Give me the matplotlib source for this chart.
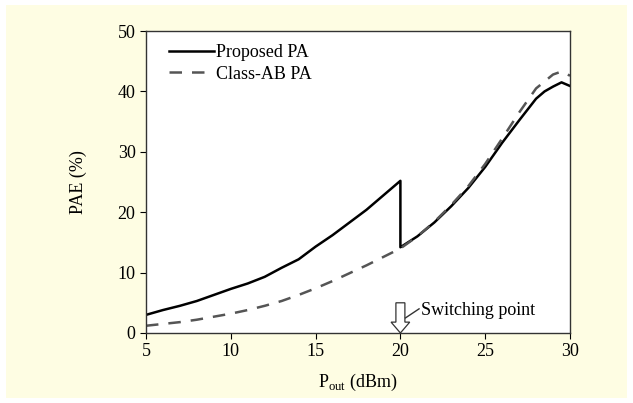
import numpy as np
import matplotlib
matplotlib.use('Agg')
import matplotlib.pyplot as plt
from matplotlib.patches import FancyArrow, Rectangle

plt.rcParams['font.family'] = ['Liberation Serif', 'DejaVu Serif']
plt.rcParams['mathtext.fontset'] = 'custom'
plt.rcParams['mathtext.rm'] = 'Liberation Serif'

# proposed PA (jump at switching point)
pout_prop = [5, 6, 7, 8, 9, 10, 11, 12, 13, 14, 15, 16, 17, 18, 19, 20,
             20, 21, 22, 23, 24, 25, 26, 27, 28, 28.5, 29, 29.5, 30]
pae_prop = [3.0, 3.8, 4.5, 5.3, 6.3, 7.3, 8.2, 9.3, 10.8, 12.2, 14.3, 16.2, 18.3, 20.4, 22.8, 25.2,
            14.2, 16.0, 18.3, 21.0, 24.0, 27.5, 31.5, 35.2, 38.8, 40.0, 40.8, 41.5, 40.9]
# class-AB PA
pout_ab = [5, 6, 7, 8, 9, 10, 11, 12, 13, 14, 15, 16, 17, 18, 19, 20,
           21, 22, 23, 24, 25, 26, 27, 28, 29, 29.5, 30]
pae_ab = [1.2, 1.5, 1.8, 2.2, 2.7, 3.2, 3.8, 4.5, 5.3, 6.3, 7.4, 8.6, 9.9, 11.2, 12.6, 14.0,
          16.0, 18.4, 21.2, 24.3, 28.0, 32.2, 36.5, 40.5, 42.8, 43.3, 42.6]

bg = '#fefde3'
fig = plt.figure(figsize=(6.33, 4.03), dpi=100, facecolor='white')
fig.patches.append(Rectangle((6/633, 5/403), 621/633, 393/403, transform=fig.transFigure,
                             facecolor=bg, edgecolor='none', zorder=-10))
ax = fig.add_axes([0.2306, 0.1737, 0.6699, 0.7493])

ax.plot(pout_prop, pae_prop, color='black', lw=1.8, label='Proposed PA')
ax.plot(pout_ab, pae_ab, color='#555555', lw=1.8, ls=(0, (5, 4)), label='Class-AB PA')

ax.set_xlim(5, 30)
ax.set_ylim(0, 50)
ax.set_xticks([5, 10, 15, 20, 25, 30])
ax.set_yticks([0, 10, 20, 30, 40, 50])
ax.tick_params(direction='out', length=4, labelsize=13, top=False, right=False)
for s in ax.spines.values():
    s.set_color('#333333')
    s.set_linewidth(1.0)

ax.set_xlabel(r'P$_{\mathrm{out}}$ (dBm)', fontsize=13, labelpad=8)
ax.set_ylabel('PAE (%)', fontsize=13, labelpad=22)

leg = ax.legend(loc='upper left', bbox_to_anchor=(0.054, 0.957), frameon=False, fontsize=13,
                handlelength=2.5, handletextpad=0.1, labelspacing=0.25,
                borderaxespad=0, borderpad=0)

# switching point arrow
ax.add_patch(FancyArrow(20, 5.0, 0, -5.0, width=0.53, head_width=1.1, head_length=1.8,
                        length_includes_head=True, facecolor='white', edgecolor='#333333', lw=0.9))
ax.plot([20.3, 21.1], [2.5, 4.0], color='#333333', lw=1.0)
ax.text(21.2, 3.8, 'Switching point', fontsize=13, va='center', ha='left')

fig.savefig('out.png', dpi=100, facecolor='white')
